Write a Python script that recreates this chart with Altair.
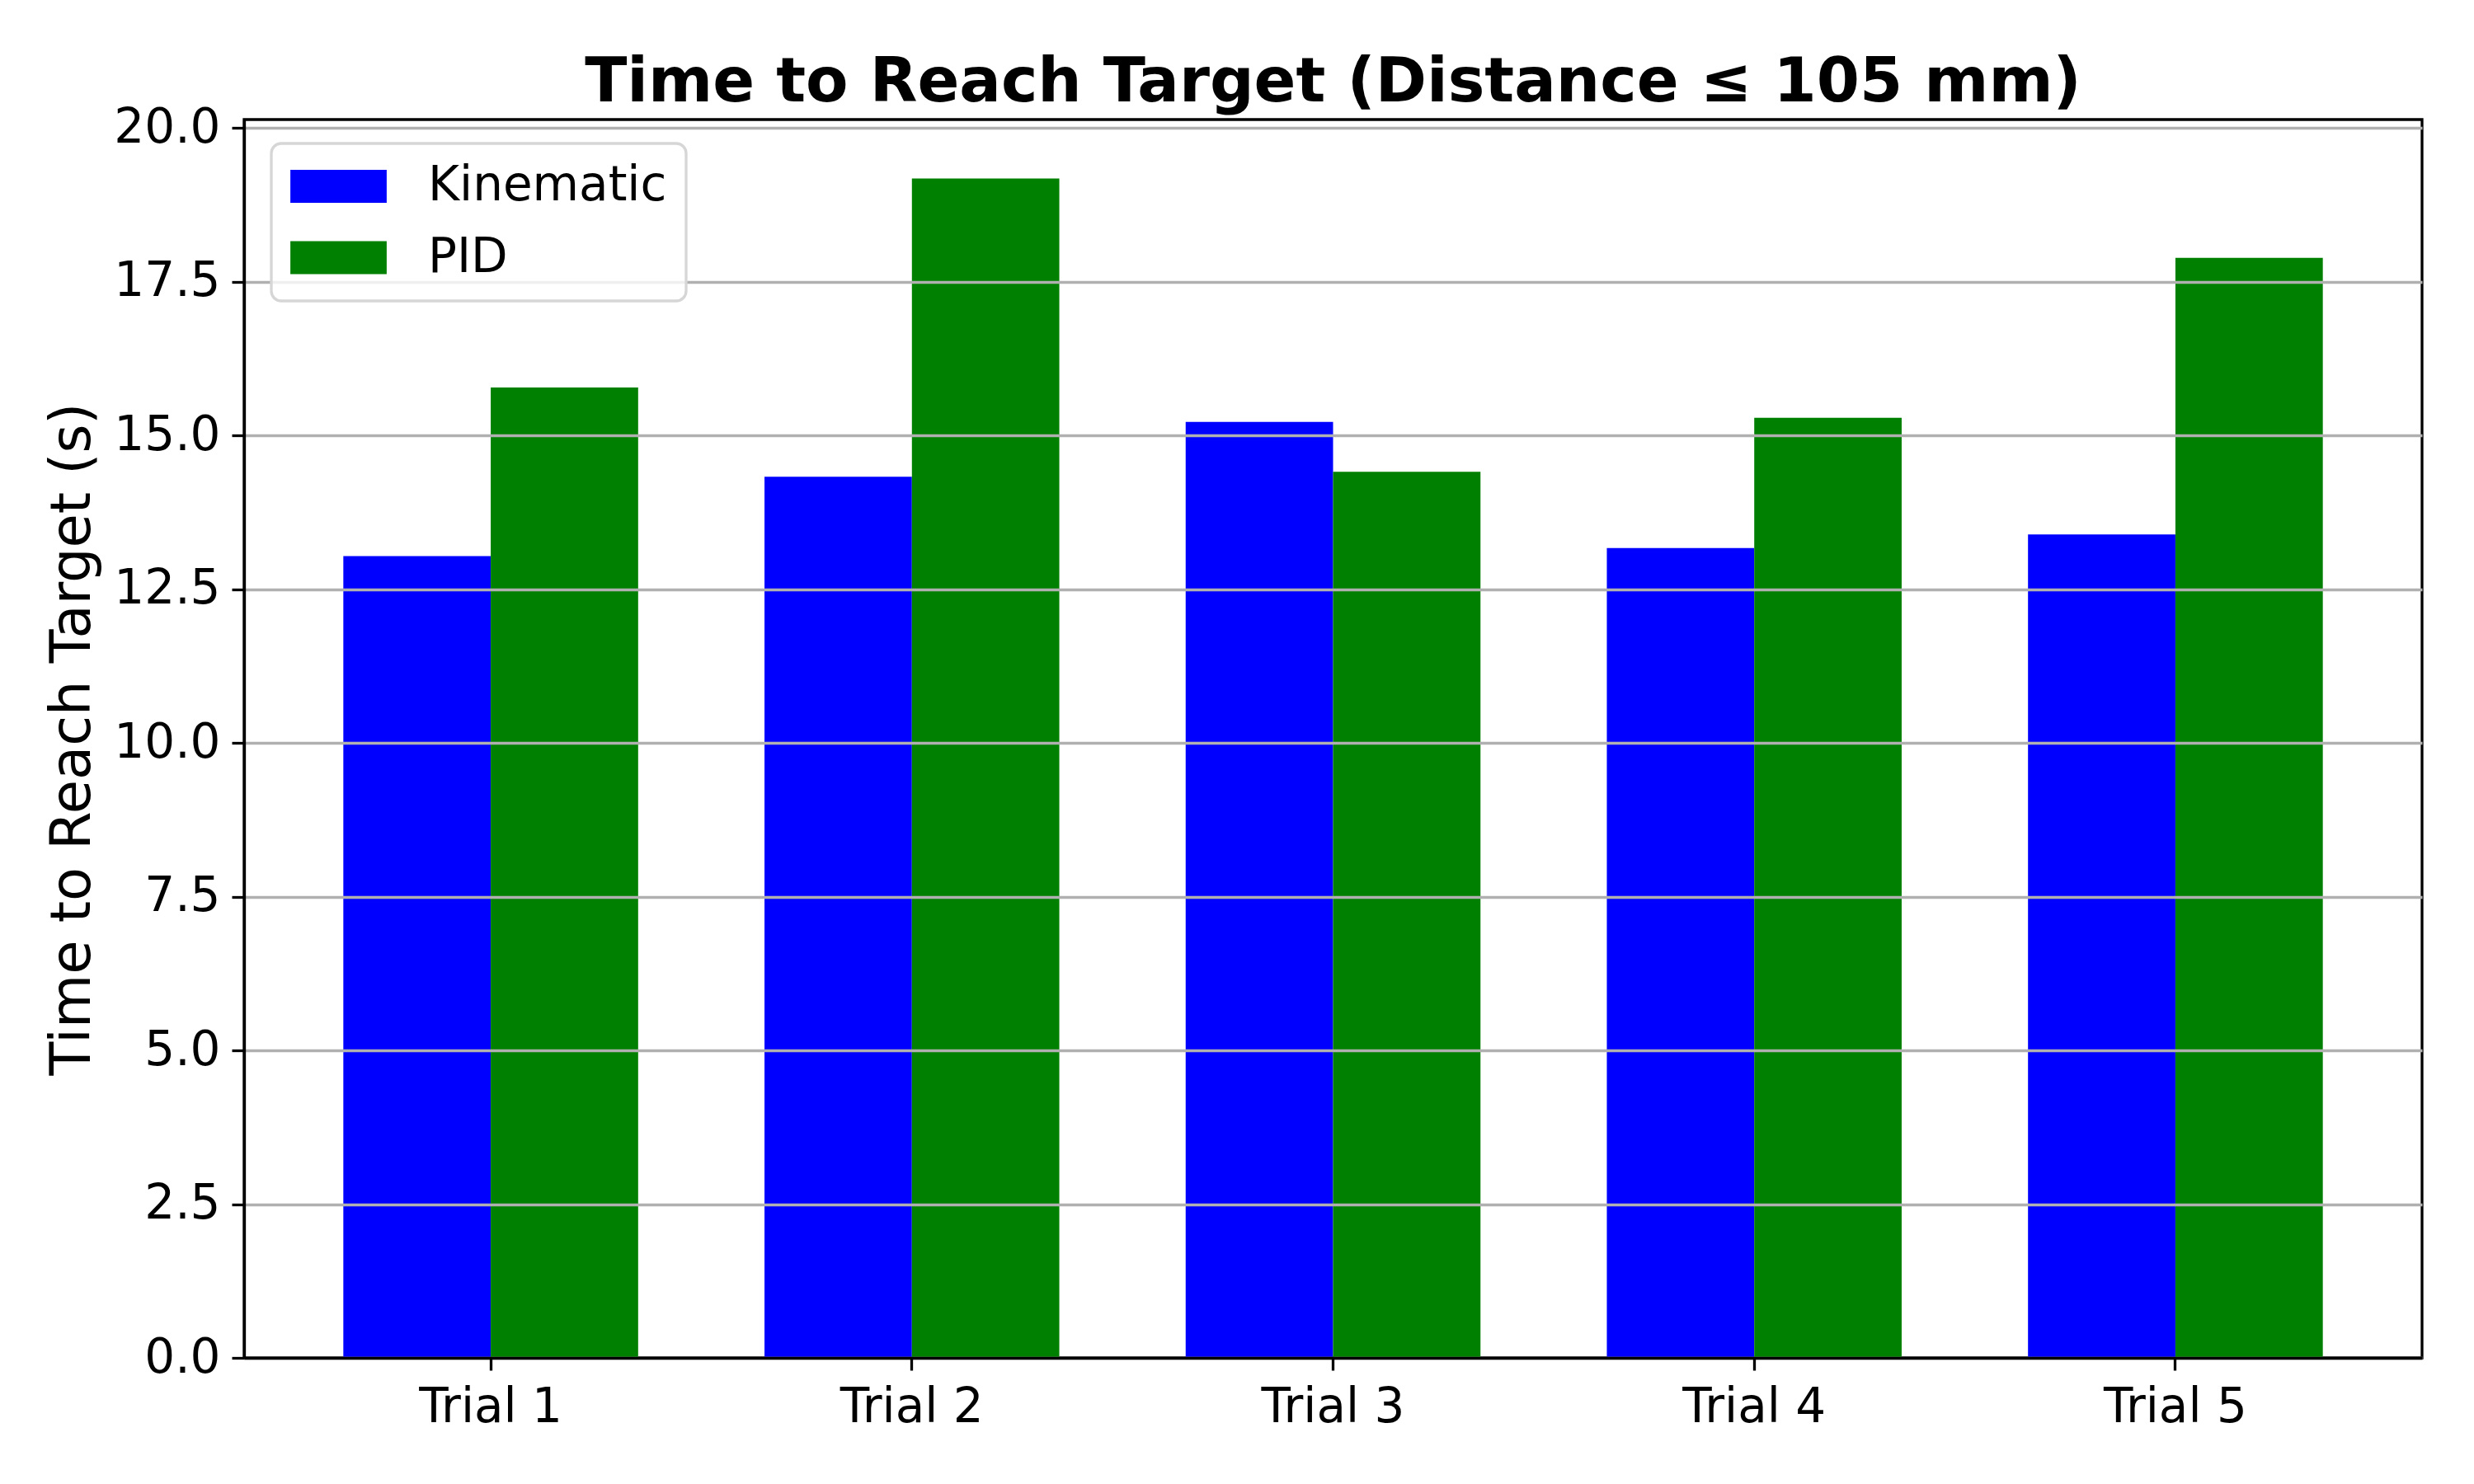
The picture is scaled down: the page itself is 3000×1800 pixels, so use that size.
import altair as alt
import pandas as pd

trials = ["Trial 1", "Trial 2", "Trial 3", "Trial 4", "Trial 5"]
methods = ["Kinematic", "PID"]
kinematic = [13.04, 14.33, 15.22, 13.17, 13.39]
pid = [15.78, 19.18, 14.41, 15.29, 17.89]
colors = ["#0000ff", "#008000"]
y_ticks = [0.0, 2.5, 5.0, 7.5, 10.0, 12.5, 15.0, 17.5, 20.0]

rows = []
for t, k, p in zip(trials, kinematic, pid):
    rows.append({"trial": t, "method": "Kinematic", "time": k})
    rows.append({"trial": t, "method": "PID", "time": p})
df = pd.DataFrame(rows)

ymax = max(kinematic + pid) * 1.05
FONT = "DejaVu Sans"
LW = 3.3
W, H = 2641, 1502

legend_path = "M-2.92,-1L2.92,-1L2.92,1L-2.92,1Z"

chart = alt.Chart(df).mark_bar().encode(
    x=alt.X("trial:N", sort=trials,
            scale=alt.Scale(paddingInner=0.3, paddingOuter=0.2356),
            axis=alt.Axis(title=None, labelAngle=0, labelFont=FONT, labelFontSize=58,
                          labelColor="black", labelPadding=16, tickSize=15,
                          tickWidth=LW, tickColor="black", domainColor="black",
                          domainWidth=LW, grid=False, zindex=2)),
    xOffset=alt.XOffset("method:N", sort=methods,
                        scale=alt.Scale(paddingInner=0, paddingOuter=0)),
    y=alt.Y("time:Q", scale=alt.Scale(domain=[0, ymax], nice=False, zero=True),
            axis=alt.Axis(title="Time to Reach Target (s)", values=y_ticks, format=".1f",
                          labelFont=FONT, labelFontSize=58, labelColor="black",
                          labelPadding=14, tickSize=15, tickWidth=LW, tickColor="black",
                          domainColor="black", domainWidth=LW,
                          grid=True, gridColor="#b0b0b0", gridWidth=LW,
                          titleFont=FONT, titleFontSize=67, titleFontWeight="normal",
                          titleColor="black", titleX=-188, titleY=H / 2,
                          titleAngle=270, titleBaseline="alphabetic", titleAlign="center",
                          zindex=1)),
    color=alt.Color("method:N", sort=methods,
                    scale=alt.Scale(domain=methods, range=colors),
                    legend=alt.Legend(title=None, orient="none", legendX=33, legendY=29,
                                      symbolType=legend_path, symbolSize=1600,
                                      symbolStrokeWidth=0, symbolOpacity=1,
                                      symbolOffset=29.5, labelOffset=79.5,
                                      labelFont=FONT, labelFontSize=58, labelColor="black",
                                      labelLimit=1000, rowPadding=28.5, padding=23,
                                      fillColor="rgba(255,255,255,0.8)",
                                      strokeColor="#d6d6d6",
                                      cornerRadius=12, zindex=3)),
).properties(
    width=W, height=H,
    title=alt.TitleParams("Time to Reach Target (Distance \u2264 105 mm)", font=FONT,
                          fontSize=75, fontWeight="bold", color="black", anchor="middle",
                          baseline="alphabetic", offset=-72),
    autosize=alt.AutoSizeParams(type="none"),
    padding={"left": 288, "top": 137, "right": 40, "bottom": 150},
    background="white",
).configure_view(stroke="black", strokeWidth=LW).configure_legend(strokeWidth=LW)

chart.save("out.html", embed_options={"renderer": "svg", "actions": False})
